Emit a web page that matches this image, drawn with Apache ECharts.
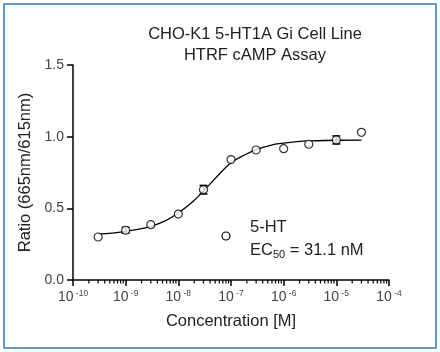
<!DOCTYPE html>
<html>
<head>
<meta charset="utf-8">
<script src="https://cdn.jsdelivr.net/npm/echarts@6/dist/echarts.min.js"></script>
<style>
body{margin:0;background:#fff;}
#chart{width:440px;height:352px;}
</style>
</head>
<body>
<div id="chart"></div>
<script>
// measured points (concentration in M, ratio)
var conc = [3e-10, 1e-9, 3e-9, 1e-8, 3e-8, 1e-7, 3e-7, 1e-6, 3e-6, 1e-5, 3e-5];
var ratio = [0.30, 0.347, 0.386, 0.46, 0.63, 0.84, 0.907, 0.916, 0.947, 0.977, 1.03];
// error bars [conc, low, high]
var errBars = [[1e-9, 0.327, 0.367], [3e-8, 0.60, 0.66], [1e-5, 0.949, 1.005]];
// fitted curve
var fitX = [3e-10, 5.6e-10, 1e-9, 1.8e-9, 3.2e-9, 5.6e-9, 1e-8, 1.8e-8, 3.2e-8, 5.6e-8,
            1e-7, 1.8e-7, 3.2e-7, 5.6e-7, 1e-6, 1.8e-6, 3.2e-6, 1e-5, 3e-5];
var fitY = [0.320, 0.327, 0.340, 0.355, 0.378, 0.413, 0.468, 0.540, 0.632, 0.727,
            0.818, 0.872, 0.913, 0.940, 0.955, 0.965, 0.970, 0.975, 0.976];
var minorTicks = [];
for (var d = -10; d < -4; d++) {
	for (var m = 2; m <= 9; m++) minorTicks.push([m * Math.pow(10, d), 0]);
}

var font = 'Liberation Sans, Arial, sans-serif';
var chart = echarts.init(document.getElementById('chart'));

var option = {
	animation: false,
	title: {
		text: 'CHO-K1 5-HT1A Gi Cell Line\nHTRF cAMP Assay',
		left: 250, top: 19, textAlign: 'center',
		textStyle: {fontFamily: font, fontSize: 16.5, fontWeight: 'normal', color: '#222', lineHeight: 21}
	},
	grid: {left: 73, right: 51, top: 65, bottom: 72},
	xAxis: {
		type: 'log', logBase: 10, min: 1e-10, max: 1e-4, interval: 1,
		name: 'Concentration [M]', nameLocation: 'middle', nameGap: 33,
		nameTextStyle: {fontFamily: font, fontSize: 16.5, color: '#222'},
		axisLine: {lineStyle: {color: '#000', width: 1.5}},
		axisTick: {length: 6, lineStyle: {color: '#000', width: 1.5}},
		splitLine: {show: false},
		axisLabel: {
			margin: 9,
			formatter: function (v) {
				return '{b|10}{e| ' + Math.round(Math.log10(v)) + '}';
			},
			rich: {
				b: {fontFamily: font, fontSize: 14, color: '#444', lineHeight: 16},
				e: {fontFamily: font, fontSize: 8.5, color: '#444', verticalAlign: 'top', lineHeight: 16, padding: [0, 0, 6, 0]}
			}
		}
	},
	yAxis: {
		type: 'value', min: 0, max: 1.5, interval: 0.5,
		name: 'Ratio (665nm/615nm)', nameLocation: 'middle', nameGap: 35,
		nameTextStyle: {fontFamily: font, fontSize: 16.5, color: '#222'},
		axisLine: {show: true, lineStyle: {color: '#000', width: 1.5}},
		axisTick: {show: true, length: 6, lineStyle: {color: '#000', width: 1.5}},
		splitLine: {show: false},
		axisLabel: {
			margin: 9, fontFamily: font, fontSize: 14, color: '#444',
			formatter: function (v) { return v.toFixed(1); }
		}
	},
	graphic: [
		{type: 'rect', shape: {x: 4, y: 4, width: 432, height: 344}, style: {fill: 'none', stroke: '#5b9bd5', lineWidth: 2}},
		{type: 'circle', shape: {cx: 226, cy: 236, r: 4}, style: {fill: '#fff', stroke: '#000', lineWidth: 1.2}},
		{type: 'text', left: 250, top: 219, style: {text: '5-HT', font: '16.5px ' + font, fill: '#222'}},
		{type: 'text', left: 250, top: 242, style: {
			text: '{n|EC}{s|50}{n| = 31.1 nM}',
			rich: {
				n: {fontFamily: font, fontSize: 16.5, fill: '#222', lineHeight: 19},
				s: {fontFamily: font, fontSize: 11, fill: '#222', lineHeight: 19, verticalAlign: 'bottom', padding: [7, 0, 0, 0]}
			}
		}}
	],
	series: [
		{
			type: 'line', name: 'fit', data: fitX.map(function (x, i) { return [x, fitY[i]]; }),
			smooth: 0.4, showSymbol: false, lineStyle: {color: '#000', width: 1.3}, z: 2
		},
		{
			type: 'custom', name: 'err', data: errBars, z: 3,
			renderItem: function (params, api) {
				var lo = api.coord([api.value(0), api.value(1)]);
				var hi = api.coord([api.value(0), api.value(2)]);
				var w = 4;
				var st = {stroke: '#000', lineWidth: 1.5};
				return {type: 'group', children: [
					{type: 'line', shape: {x1: lo[0], y1: lo[1], x2: hi[0], y2: hi[1]}, style: st},
					{type: 'line', shape: {x1: lo[0] - w, y1: lo[1], x2: lo[0] + w, y2: lo[1]}, style: st},
					{type: 'line', shape: {x1: hi[0] - w, y1: hi[1], x2: hi[0] + w, y2: hi[1]}, style: st}
				]};
			}
		},
		{
			type: 'scatter', name: '5-HT', data: conc.map(function (x, i) { return [x, ratio[i]]; }),
			symbol: 'circle', symbolSize: 8, z: 4,
			itemStyle: {color: '#fff', borderColor: '#000', borderWidth: 1.2}
		},
		{
			type: 'custom', name: 'minor', data: minorTicks, clip: false, silent: true, z: 5,
			renderItem: function (params, api) {
				var p = api.coord([api.value(0), 0]);
				return {type: 'line', shape: {x1: p[0], y1: p[1], x2: p[0], y2: p[1] + 3.5}, style: {stroke: '#000', lineWidth: 1.2}};
			}
		}
	]
};
chart.setOption(option);
</script>
</body>
</html>
